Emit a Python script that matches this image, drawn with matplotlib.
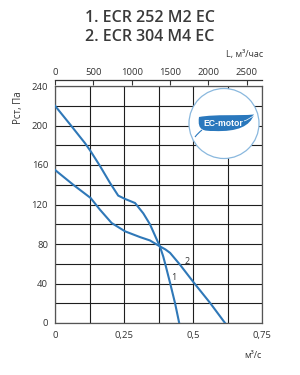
import matplotlib
matplotlib.use("Agg")
import matplotlib.pyplot as plt
import matplotlib.patches as mpatches
import matplotlib.transforms as mtransforms
from matplotlib.path import Path

# chart data
title_lines = ["1. ECR 252 M2 EC", "2. ECR 304 M4 EC"]

# curve 1: ECR 252 M2 EC  (Q in m3/s, P in Pa)
q1 = [0, 0.055, 0.109, 0.129, 0.163, 0.199, 0.229, 0.254, 0.29, 0.32, 0.344, 0.368, 0.38, 0.392, 0.402, 0.417, 0.435, 0.45]
p1 = [220, 201, 182, 174, 159, 142, 129, 125.6, 121.5, 111, 100, 85, 77.6, 67.5, 57, 40.5, 20, 0]

# curve 2: ECR 304 M4 EC
q2 = [0, 0.066, 0.129, 0.163, 0.205, 0.254, 0.308, 0.344, 0.38, 0.40, 0.417, 0.453, 0.504, 0.562, 0.616]
p2 = [155, 140, 126.6, 114.7, 101.3, 92.8, 87, 83.6, 77.6, 74.5, 71, 59, 40.5, 20.3, 0]

curve_labels = ["1", "2"]
label_pos = [(0.432, 46.5), (0.477, 62.4)]

x_ticks = [0, 0.25, 0.5, 0.75]
x_ticklabels = ["0", "0,25", "0,5", "0,75"]
y_ticks = [0, 40, 80, 120, 160, 200, 240]
top_ticks = [0, 500, 1000, 1500, 2000, 2500]

line_col = "#2f78b8"
text_col = "#333333"
plt.rcParams['font.family'] = ['Open Sans', 'DejaVu Sans']

fig = plt.figure(figsize=(3.0, 3.75), dpi=100)
ax = fig.add_axes([55 / 300, 52 / 375, 207 / 300, 237 / 375])

ax.plot(q1, p1, color=line_col, lw=1.5, zorder=3)
ax.plot(q2, p2, color=line_col, lw=1.5, zorder=3)
for lab, (qx, py) in zip(curve_labels, label_pos):
    ax.text(qx, py, lab, fontsize=6.5, color=text_col, ha='center', va='center', zorder=4)

ax.set_xlim(0, 0.75)
ax.set_ylim(0, 240)
ax.set_xticks(x_ticks)
ax.set_xticklabels(x_ticklabels)
ax.set_xticks([0.125, 0.375, 0.625], minor=True)
ax.set_yticks(y_ticks)
ax.set_yticks(range(20, 240, 40), minor=True)
ax.grid(which='both', color='#1e1e1e', lw=0.8)
ax.tick_params(which='both', length=0, labelsize=6.8, labelcolor=text_col)
ax.tick_params(axis='x', pad=6)
ax.tick_params(axis='y', pad=5)
for s in ax.spines.values():
    s.set_color('#555555')
    s.set_linewidth(0.9)

# top axis in m3/h
top = ax.secondary_xaxis('top', functions=(lambda q: q * 3600, lambda l: l / 3600))
top.set_xticks(top_ticks)
top.spines['top'].set_position(('outward', 4.3))
top.spines['top'].set_color('#333333')
top.spines['top'].set_linewidth(0.9)
top.tick_params(direction='in', length=3.5, width=0.8, color='#333333',
                labelsize=6.8, labelcolor=text_col, pad=2)

# pixel-based transform (origin top-left) for texts and the logo
px = mtransforms.Affine2D().scale(1 / 300, -1 / 375).translate(0, 1) + fig.transFigure

fig.text(150, 18, title_lines[0], transform=px, ha='center', va='center',
         fontsize=11.5, fontweight='semibold', color='#3a3a3a')
fig.text(150, 37, title_lines[1], transform=px, ha='center', va='center',
         fontsize=11.5, fontweight='semibold', color='#3a3a3a')
fig.text(263, 55, "L, м³/час", transform=px, ha='right', va='center',
         fontsize=6.5, color=text_col)
fig.text(19, 108, "Рст, Па", transform=px, ha='center', va='center',
         rotation=90, fontsize=7, color=text_col)
fig.text(253, 356, "м³/с", transform=px, ha='center', va='center',
         fontsize=6.5, color=text_col)

# EC-motor badge
circ = mpatches.Circle((224, 123.5), 35, transform=px, facecolor='white',
                       edgecolor='#8ab8de', lw=0.9, zorder=5)
fig.add_artist(circ)
leaf = Path([(199, 117), (216, 114), (238, 116), (254, 114.5),
             (250, 126), (238, 132), (214, 131),
             (204, 131), (197, 131), (199, 117)],
            [Path.MOVETO, Path.CURVE4, Path.CURVE4, Path.CURVE4,
             Path.CURVE4, Path.CURVE4, Path.CURVE4,
             Path.CURVE4, Path.CURVE4, Path.CURVE4])
fig.add_artist(mpatches.PathPatch(leaf, transform=px, facecolor='#2a78bd',
                                  edgecolor='none', zorder=6))
vein = Path([(244, 121), (250, 119), (254, 115)], [Path.MOVETO, Path.CURVE3, Path.CURVE3])
fig.add_artist(mpatches.PathPatch(vein, transform=px, facecolor='none',
                                  edgecolor='white', lw=0.5, zorder=7))
tail = Path([(202, 130), (198, 133), (195, 137)], [Path.MOVETO, Path.CURVE3, Path.CURVE3])
fig.add_artist(mpatches.PathPatch(tail, transform=px, facecolor='none',
                                  edgecolor='#2a78bd', lw=0.8, zorder=6))
fig.text(223, 123, "EC-motor", transform=px, ha='center', va='center',
         fontsize=6.2, fontweight='bold', color='white', zorder=7,
         family=['Liberation Sans', 'DejaVu Sans'])

fig.savefig("out.png", dpi=100)
